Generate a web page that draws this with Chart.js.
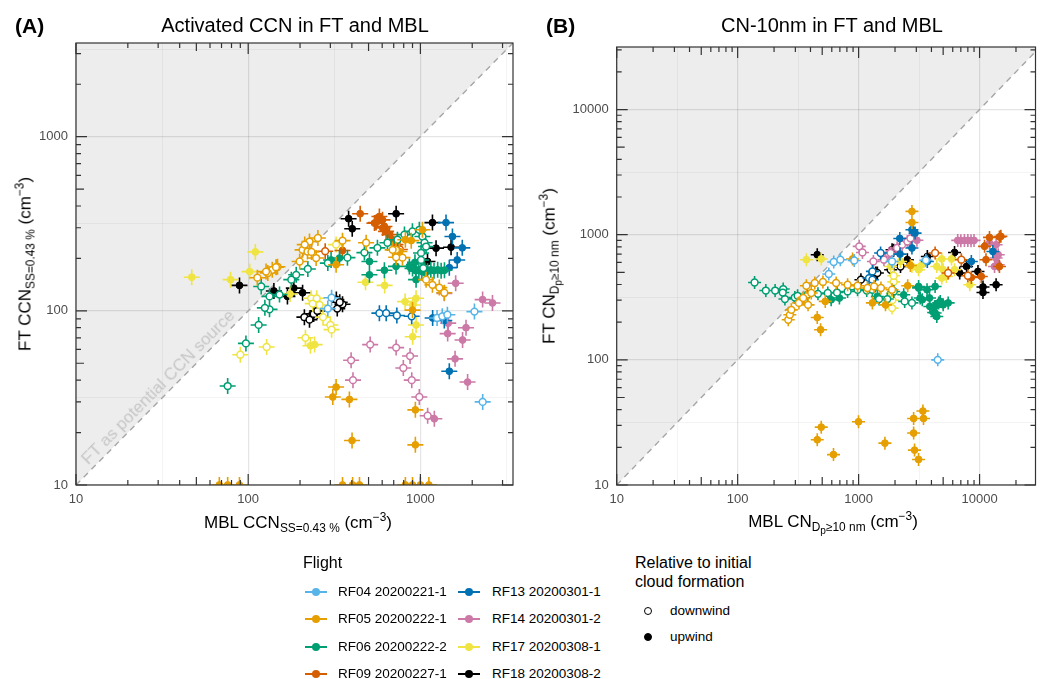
<!DOCTYPE html>
<html>
<head>
<meta charset="utf-8">
<script src="https://cdn.jsdelivr.net/npm/chart.js@4.4.1/dist/chart.umd.min.js"></script>
<style>
body { margin: 0; background: #fff; font-family: "Liberation Sans", Arial, sans-serif; }
#page { position: relative; width: 1041px; height: 679px; overflow: hidden; background: #fff; }
#page canvas { position: absolute; top: 0; }
.txt { position: absolute; white-space: nowrap; color: #000; line-height: 1; }
.tag { font-size: 21px; font-weight: bold; }
.title { font-size: 20px; transform: translateX(-50%); }
.xlab { font-size: 17px; transform: translate(-50%, -50%); }
.ylab { font-size: 17px; transform: translate(-50%, -50%) rotate(-90deg); }
.note { font-size: 17px; color: #c6c6c6; transform: translate(-50%, -50%) rotate(-45.3deg); }
sub, sup { font-size: 0.7em; line-height: 0; }
sub sub { font-size: 0.85em; }
.leg { font-size: 13.5px; transform: translateY(-50%); }
.legtitle { font-size: 16px; }
.glyph { position: absolute; width: 22px; height: 2px; transform: translateY(-50%); }
.glyph::after { content: ""; position: absolute; left: 7px; top: -3px; width: 8px; height: 8px; border-radius: 50%; background: inherit; }
.dot { position: absolute; width: 6px; height: 6px; border-radius: 50%; transform: translate(-50%, -50%); border: 1.2px solid #000; }
</style>
</head>
<body>
<div id="page">
  <canvas id="ccnChart" width="530" height="510" style="left:0"></canvas>
  <canvas id="cnChart" width="521" height="510" style="left:520px"></canvas>

  <div class="txt tag" style="left:15px;top:15px">(A)</div>
  <div class="txt title" style="left:295px;top:15px">Activated CCN in FT and MBL</div>
  <div class="txt tag" style="left:546px;top:15px">(B)</div>
  <div class="txt title" style="left:832px;top:15px">CN-10nm in FT and MBL</div>

  <div class="txt ylab" style="left:25px;top:264px">FT CCN<sub>SS=0.43 %</sub> (cm<sup>−3</sup>)</div>
  <div class="txt xlab" style="left:298px;top:522px">MBL CCN<sub>SS=0.43 %</sub> (cm<sup>−3</sup>)</div>
  <div class="txt ylab" style="left:550px;top:266px">FT CN<sub>D<sub>p</sub>≥10 nm</sub> (cm<sup>−3</sup>)</div>
  <div class="txt xlab" style="left:833px;top:522px">MBL CN<sub>D<sub>p</sub>≥10 nm</sub> (cm<sup>−3</sup>)</div>

  <div class="txt note" style="left:158px;top:387px">FT as potential CCN source</div>

  <div class="txt legtitle" style="left:303px;top:555px">Flight</div>
  <div id="flightLegend"></div>

  <div class="txt legtitle" style="left:635px;top:555px">Relative to initial</div>
  <div class="txt legtitle" style="left:635px;top:574px">cloud formation</div>
  <div class="dot" style="left:648px;top:611px;background:#fff"></div>
  <div class="txt leg" style="left:670px;top:611px">downwind</div>
  <div class="dot" style="left:648px;top:637px;background:#000"></div>
  <div class="txt leg" style="left:670px;top:637px">upwind</div>
</div>

<script>
// Flights and colours
const flights = ['RF04 20200221-1', 'RF05 20200222-1', 'RF06 20200222-2', 'RF09 20200227-1',
                 'RF13 20200301-1', 'RF14 20200301-2', 'RF17 20200308-1', 'RF18 20200308-2'];
const flightColors = ['#56B4E9', '#E69F00', '#009E73', '#D55E00', '#0072B2', '#CC79A7', '#F0E442', '#000000'];

// Axis ticks / limits
const ccnGridTicks = [10, 31.62, 100, 316.2, 1000, 3162];
const cnGridTicks = [10, 31.62, 100, 316.2, 1000, 3162, 10000, 31623];
const ccnAxisMax = 3450;
const cnXMax = 29000;
const cnYMax = 31600;

// Panel A: [MBL CCN, FT CCN]
const ccnRF04Down = [[305,119],[290,103],[1250,91],[1340,93],[1435,95],[2060,99],[2300,30]];
const ccnRF04Up = [];
const ccnRF05Down = [[199,192],[207,224],[227,250],[254,262],[221,219],[248,201],[213,240],[233,218],[148,179],[138,172],[130,165],[113,155],[127,168],[145,178],[353,253],[484,246],[722,224],[787,202],[690,224],[723,203],[1079,151],[1175,141],[1288,136],[1377,127]];
const ccnRF05Up = [[324,184],[885,253],[755,219],[1028,292],[818,256],[900,101],[324,36.5],[310,32],[387,31],[401,18],[935,27],[935,17],[68,10],[76,10],[89,10],[353,10],[404,10],[443,10],[818,10],[900,10],[1000,10],[1120,10]];
const ccnRF06Down = [[133,102],[115,83],[119,138],[133,121],[152,124],[178,151],[190,161],[222,174],[290,188],[97,65],[76,37],[125,104],[377,202],[473,216],[563,230],[644,246],[736,256],[808,274],[899,286],[986,292],[1028,267],[1057,246],[1079,234],[1009,215],[1009,196],[1040,176]];
const ccnRF06Up = [[303,196],[339,201],[506,192],[506,161],[618,171],[722,180],[863,180],[900,175],[940,170],[980,172],[1020,168],[1060,171],[1100,169],[1150,172],[1200,170],[1260,172],[1320,170],[1380,171],[930,190],[944,151]];
const ccnRF09Down = [[280,220],[760,225]];
const ccnRF09Up = [[447,361],[578,348],[553,321],[603,333],[618,305],[632,286],[661,274],[689,256],[716,240],[353,222],[541,319],[604,299]];
const ccnRF13Down = [[578,97],[633,97],[730,94],[890,93]];
const ccnRF13Up = [[1409,321],[1535,267],[1751,230],[1636,196],[1472,177],[1178,91],[1377,88],[1472,45]];
const ccnRF14Down = [[511,64],[723,61.5],[396,52],[871,55],[796,47],[891,40],[406,40],[986,32],[1102,25]];
const ccnRF14Up = [[1205,24],[1440,74],[1450,85],[1841,80],[1758,68],[1590,53],[1880,39],[1603,144],[1377,126],[2298,116],[2622,111]];
const ccnRF17Down = [[232,118],[237,110],[272,92],[300,83],[305,78],[215,70],[128,62],[90,56],[250,118],[260,108],[324,240]];
const ccnRF17Up = [[47,156],[79,151],[102,168],[110,218],[243,64],[230,63],[480,146],[620,140],[944,118],[902,108],[944,83],[902,71],[815,113],[175,125]];
const ccnRF18Down = [[212,92],[227,89],[240,96],[252,100],[325,116],[329,103],[353,109],[340,112]];
const ccnRF18Up = [[89,140],[141,130],[169,121],[184,135],[207,127],[383,338],[402,296],[723,361],[1175,321],[1233,229],[1507,232],[1100,192]];

// Panel B: [MBL CN, FT CN]
const cnRF04Down = [[623,605],[706,631],[920,622],[567,485],[4510,100],[1890,611],[3600,625]];
const cnRF04Up = [];
const cnRF05Down = [[262,209],[270,229],[278,251],[321,285],[348,312],[370,391],[434,411],[507,419],[406,342],[652,411],[811,398],[980,391],[1183,375],[382,275],[1343,386],[1530,375],[1890,363]];
const cnRF05Up = [[455,218],[485,174],[491,29],[455,23],[620,17.5],[998,32],[1650,21.6],[2850,34],[3400,39],[3440,34],[2850,26],[2900,19],[3130,16],[2760,1535],[2760,1253],[530,293],[1300,285],[2546,391],[1668,275],[891,640],[2680,568]];
const cnRF06Down = [[138,415],[171,358],[204,358],[238,368],[246,306],[236,345],[297,315],[313,325],[377,331],[461,337],[556,342],[663,345],[811,352],[980,363],[1167,358],[1300,363],[1476,306],[1726,306],[1955,352],[2404,293],[2760,285]];
const cnRF06Up = [[593,302],[694,312],[1429,321],[2360,331],[3133,375],[3133,386],[3360,302],[3680,363],[3855,312],[4290,386],[3230,312],[3880,267],[4290,267],[4170,239],[4590,285],[4730,293],[5000,275],[5500,285],[4290,237],[4430,222]];
const cnRF09Down = [[4290,714],[7070,631],[5500,494],[8000,470]];
const cnRF09Up = [[12080,951],[14600,959],[11000,807],[15000,970],[11300,631],[14600,557],[10330,464],[8550,455]];
const cnRF13Down = [[1520,714],[1300,509],[1220,450],[1300,437]];
const cnRF13Up = [[2760,1096],[2930,1030],[2190,933],[2760,783],[8550,611],[12880,735],[3700,610],[2200,700]];
const cnRF14Down = [[1012,807],[1076,721],[1325,611],[1620,631],[1778,705],[2081,783],[1840,714],[2290,832],[2530,883],[2680,935]];
const cnRF14Up = [[6600,900],[7000,895],[7500,900],[8000,900],[8500,895],[9000,900],[12080,860],[13700,651],[13300,557],[3034,902],[13700,832],[14250,692],[14250,575]];
const cnRF17Down = [[1890,259],[1900,300],[1900,340],[1950,420],[1950,470]];
const cnRF17Up = [[370,631],[491,640],[2220,611],[2760,557],[3340,575],[3130,525],[4870,640],[4430,557],[5000,525],[5860,640],[6210,525],[5320,464],[4870,450],[8300,398],[1840,557]];
const cnRF18Down = [[1045,437],[1384,494],[1840,525],[2220,557],[1429,494]];
const cnRF18Up = [[455,692],[1890,759],[2530,631],[6210,721],[7810,557],[9700,508],[10670,382],[10670,345],[13700,398],[6850,494],[3700,670],[1950,750]];

const ccnSeries = [
    [ccnRF04Down, ccnRF04Up], [ccnRF05Down, ccnRF05Up], [ccnRF06Down, ccnRF06Up], [ccnRF09Down, ccnRF09Up],
    [ccnRF13Down, ccnRF13Up], [ccnRF14Down, ccnRF14Up], [ccnRF17Down, ccnRF17Up], [ccnRF18Down, ccnRF18Up]
];
const cnSeries = [
    [cnRF04Down, cnRF04Up], [cnRF05Down, cnRF05Up], [cnRF06Down, cnRF06Up], [cnRF09Down, cnRF09Up],
    [cnRF13Down, cnRF13Up], [cnRF14Down, cnRF14Up], [cnRF17Down, cnRF17Up], [cnRF18Down, cnRF18Up]
];

Chart.defaults.font.family = '"Liberation Sans", Arial, sans-serif';

const isDecade = v => Math.abs(Math.log10(v) - Math.round(Math.log10(v))) < 1e-6;

// shading, 1:1 line, frame, log ticks and error arms
const panelDecor = {
    id: 'panelDecor',
    beforeDraw(chart) {
        const { ctx, chartArea: a, scales: { x, y } } = chart;
        const top = Math.min(x.max, y.max);
        ctx.save();
        ctx.fillStyle = '#ededed';
        ctx.beginPath();
        ctx.moveTo(a.left, a.bottom);
        ctx.lineTo(x.getPixelForValue(top), y.getPixelForValue(top));
        ctx.lineTo(a.right, a.top);
        ctx.lineTo(a.left, a.top);
        ctx.closePath();
        ctx.fill();
        ctx.restore();
    },
    beforeDatasetsDraw(chart) {
        const { ctx, chartArea: a, scales: { x, y } } = chart;
        const top = Math.max(x.max, y.max);
        ctx.save();
        ctx.beginPath();
        ctx.rect(a.left, a.top, a.right - a.left, a.bottom - a.top);
        ctx.clip();
        ctx.strokeStyle = '#a6a6a6';
        ctx.lineWidth = 1.4;
        ctx.setLineDash([6, 5]);
        ctx.beginPath();
        ctx.moveTo(x.getPixelForValue(10), y.getPixelForValue(10));
        ctx.lineTo(x.getPixelForValue(top), y.getPixelForValue(top));
        ctx.stroke();
        ctx.restore();
    },
    beforeDatasetDraw(chart, args) {
        const { ctx, chartArea: a } = chart;
        const ds = chart.data.datasets[args.index];
        const arm = chart.options.plugins.panelDecor.arm;
        ctx.save();
        ctx.beginPath();
        ctx.rect(a.left, a.top, a.right - a.left, a.bottom - a.top);
        ctx.clip();
        ctx.strokeStyle = ds.pointBorderColor;
        ctx.lineWidth = 1.6;
        ctx.beginPath();
        args.meta.data.forEach(pt => {
            ctx.moveTo(pt.x - arm, pt.y);
            ctx.lineTo(pt.x + arm, pt.y);
            ctx.moveTo(pt.x, pt.y - arm);
            ctx.lineTo(pt.x, pt.y + arm);
        });
        ctx.stroke();
        ctx.restore();
    },
    afterDatasetsDraw(chart) {
        const { ctx, chartArea: a, scales: { x, y } } = chart;
        ctx.save();
        ctx.strokeStyle = '#333';
        ctx.lineWidth = 1.2;
        ctx.beginPath();
        for (let e = 1; e <= 4; e++) {
            for (let m = 1; m <= 9; m++) {
                const v = m * Math.pow(10, e);
                const len = m === 1 ? 11 : (m === 5 ? 8 : 5);
                if (v >= x.min && v <= x.max) {
                    const px = x.getPixelForValue(v);
                    ctx.moveTo(px, a.bottom); ctx.lineTo(px, a.bottom - len);
                    ctx.moveTo(px, a.top); ctx.lineTo(px, a.top + len);
                }
                if (v >= y.min && v <= y.max) {
                    const py = y.getPixelForValue(v);
                    ctx.moveTo(a.left, py); ctx.lineTo(a.left + len, py);
                    ctx.moveTo(a.right, py); ctx.lineTo(a.right - len, py);
                }
            }
        }
        ctx.stroke();
        ctx.strokeRect(a.left, a.top, a.right - a.left, a.bottom - a.top);
        ctx.restore();
    }
};

function logAxis(max, gridTicks, fitSize, isX) {
    return {
        type: 'logarithmic',
        min: 10,
        max: max,
        afterBuildTicks: scale => {
            scale.ticks = gridTicks.filter(v => v <= scale.max).map(v => ({ value: v }));
        },
        afterFit: scale => {
            if (isX) scale.height = fitSize; else scale.width = fitSize;
        },
        border: { display: false },
        grid: {
            drawTicks: false,
            color: c => (c.tick && isDecade(c.tick.value)) ? 'rgba(0,0,0,0.1)' : 'rgba(0,0,0,0.055)',
            lineWidth: c => (c.tick && isDecade(c.tick.value)) ? 1.2 : 0.8
        },
        ticks: {
            autoSkip: false,
            maxRotation: 0,
            padding: isX ? 7 : 8,
            color: '#4d4d4d',
            font: { size: 13 },
            callback: v => isDecade(v) ? String(Math.round(v)) : ''
        }
    };
}

function buildDatasets(series) {
    const datasets = [];
    series.forEach(([down, up], i) => {
        [[down, true], [up, false]].forEach(([pts, open]) => {
            datasets.push({
                label: flights[i] + (open ? ' downwind' : ' upwind'),
                data: pts.map(([x, y]) => ({ x, y })),
                showLine: false,
                clip: 0,
                pointRadius: 3.4,
                pointBackgroundColor: open ? '#ffffff' : flightColors[i],
                pointBorderColor: flightColors[i],
                pointBorderWidth: open ? 1.5 : 1
            });
        });
    });
    return datasets;
}

function drawPanel(canvasId, series, xMax, yMax, gridTicks, yAxisWidth, padding, arm) {
    const ctx = document.getElementById(canvasId).getContext('2d');
    return new Chart(ctx, {
        type: 'scatter',
        data: { datasets: buildDatasets(series) },
        options: {
            responsive: false,
            animation: false,
            devicePixelRatio: 1,
            layout: { padding: padding },
            scales: {
                x: logAxis(xMax, gridTicks, 25, true),
                y: logAxis(yMax, gridTicks, yAxisWidth, false)
            },
            plugins: {
                legend: { display: false },
                tooltip: { enabled: false },
                panelDecor: { arm: arm }
            }
        },
        plugins: [panelDecor]
    });
}

drawPanel('ccnChart', ccnSeries, ccnAxisMax, ccnAxisMax, ccnGridTicks, 76, { top: 43, right: 17, left: 0, bottom: 0 }, 8);
drawPanel('cnChart', cnSeries, cnXMax, cnYMax, cnGridTicks, 96.7, { top: 47, right: 1, left: 0, bottom: 0 }, 6.5);

// Flight legend (two columns)
const legendBox = document.getElementById('flightLegend');
const legendRows = [591.5, 619, 646.5, 673.5];
flights.forEach((name, i) => {
    const col = Math.floor(i / 4);
    const row = i % 4;
    const glyphLeft = col === 0 ? 305 : 458;
    const textLeft = col === 0 ? 338 : 492;
    const glyph = document.createElement('div');
    glyph.className = 'glyph';
    glyph.style.left = glyphLeft + 'px';
    glyph.style.top = legendRows[row] + 'px';
    glyph.style.background = flightColors[i];
    legendBox.appendChild(glyph);
    const label = document.createElement('div');
    label.className = 'txt leg';
    label.style.left = textLeft + 'px';
    label.style.top = legendRows[row] + 'px';
    label.textContent = name;
    legendBox.appendChild(label);
});
</script>
</body>
</html>
